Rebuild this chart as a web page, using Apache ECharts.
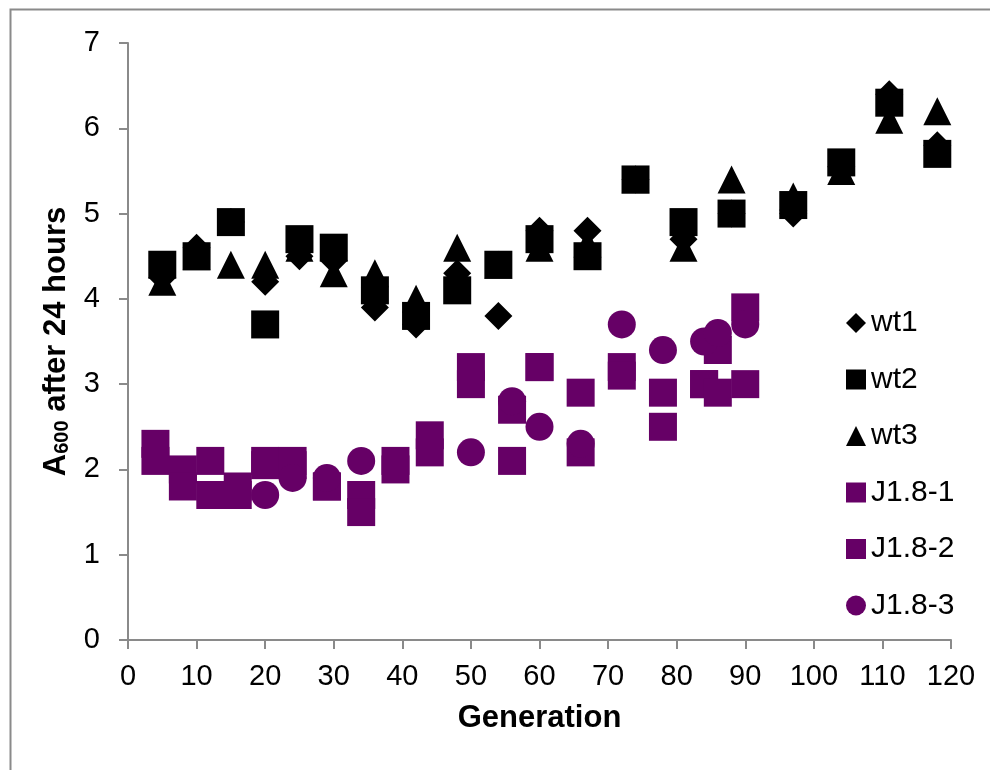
<!DOCTYPE html>
<html>
<head>
<meta charset="utf-8">
<script src="https://cdn.jsdelivr.net/npm/echarts@6/dist/echarts.min.js"></script>
<style>html,body{margin:0;padding:0;background:#fff}#c{width:990px;height:770px}</style>
</head>
<body>
<div id="c"></div>
<script>
// Generations (x) for wild-type replicates
var wtGen = [5, 10, 15, 20, 25, 30, 36, 42, 48, 54, 60, 67, 74, 81, 88, 97, 104, 111, 118];
var wt1 = [4.25, 4.6, 4.9, 4.2, 4.5, 4.45, 3.9, 3.7, 4.3, 3.8, 4.8, 4.8, 5.4, 4.7, 5.0, 5.0, 5.55, 6.4, 5.8];
var wt2 = [4.4, 4.5, 4.9, 3.7, 4.7, 4.6, 4.1, 3.8, 4.1, 4.4, 4.7, 4.5, 5.4, 4.9, 5.0, 5.1, 5.6, 6.3, 5.7];
var wt3 = [4.2, 4.5, 4.4, 4.4, 4.6, 4.3, 4.3, 4.0, 4.6, 4.4, 4.6, 4.65, 5.4, 4.6, 5.4, 5.2, 5.5, 6.1, 6.2];

// Generations (x) for J1.8 replicates
var jGen = [4, 8, 12, 16, 20, 24, 29, 34, 39, 44, 50, 56, 60, 66, 72, 78, 84, 86, 90];
var j1 = [2.3, 2.0, 2.1, 1.8, 2.1, 2.1, 1.8, 1.7, 2.1, 2.4, 3.2, 2.7, 3.2, 2.9, 3.2, 2.9, 3.0, 3.4, 3.9];
var j2 = [2.1, 1.8, 1.7, 1.7, 2.05, 2.05, 1.8, 1.5, 2.0, 2.2, 3.0, 2.1, 3.2, 2.2, 3.1, 2.5, 3.0, 2.9, 3.0];
var j3Gen = [20, 24, 29, 34, 50, 56, 60, 66, 72, 78, 84, 86, 90];
var j3 = [1.7, 1.9, 1.9, 2.1, 2.2, 2.8, 2.5, 2.3, 3.7, 3.4, 3.5, 3.6, 3.7];

var seriesNames = ['wt1', 'wt2', 'wt3', 'J1.8-1', 'J1.8-2', 'J1.8-3'];
var xTicks = [0, 10, 20, 30, 40, 50, 60, 70, 80, 90, 100, 110, 120];
var yTicks = [0, 1, 2, 3, 4, 5, 6, 7];

function pairs(xs, ys) { return xs.map(function (x, i) { return [x, ys[i]]; }); }

var BLACK = '#000000', PURPLE = '#660066', AXIS = '#8a8a8a';
var FONT = '"Liberation Sans", Arial, sans-serif';

function sc(name, data, symbol, color) {
  return {
    name: name, type: 'scatter', data: data, symbol: symbol, symbolSize: 28,
    itemStyle: { color: color, opacity: 1 }, emphasis: { disabled: true }
  };
}

var chart = echarts.init(document.getElementById('c'), null, { renderer: 'canvas' });
chart.setOption({
  animation: false,
  backgroundColor: '#ffffff',
  textStyle: { fontFamily: FONT },
  graphic: [{
    type: 'rect', left: 8, top: 7, shape: { width: 1200, height: 1000 },
    style: { fill: 'none', stroke: AXIS, lineWidth: 2 }, silent: true, z: -1
  }],
  grid: { left: 128, right: 39, top: 43, bottom: 130 },
  legend: {
    orient: 'vertical', left: 841, top: 303,
    itemWidth: 20, itemHeight: 20, itemGap: 26.5,
    textStyle: { fontSize: 30, color: '#000', fontFamily: FONT },
    data: [
      { name: 'wt1', icon: 'diamond' },
      { name: 'wt2', icon: 'rect' },
      { name: 'wt3', icon: 'triangle' },
      { name: 'J1.8-1', icon: 'rect' },
      { name: 'J1.8-2', icon: 'rect' },
      { name: 'J1.8-3', icon: 'circle' }
    ]
  },
  xAxis: {
    type: 'value', min: xTicks[0], max: xTicks[xTicks.length - 1], interval: 10,
    name: 'Generation', nameLocation: 'middle', nameGap: 63,
    nameTextStyle: { fontSize: 31, fontWeight: 'bold', color: '#000', fontFamily: FONT },
    axisLine: { lineStyle: { color: AXIS, width: 2 } },
    axisTick: { show: true, length: 9, inside: false, lineStyle: { color: AXIS, width: 2 } },
    axisLabel: { fontSize: 29, color: '#000', margin: 22, fontFamily: FONT },
    splitLine: { show: false }
  },
  yAxis: {
    type: 'value', min: yTicks[0], max: yTicks[yTicks.length - 1], interval: 1,
    name: '{a|A}{s|600}{a| after 24 hours}', nameLocation: 'middle', nameGap: 48,
    nameTextStyle: {
      fontSize: 31, fontWeight: 'bold', color: '#000', fontFamily: FONT,
      rich: {
        a: { fontSize: 31, fontWeight: 'bold', color: '#000', fontFamily: FONT },
        s: { fontSize: 20, fontWeight: 'bold', color: '#000', fontFamily: FONT, padding: [13, 0, 0, 0] }
      }
    },
    axisLine: { show: true, lineStyle: { color: AXIS, width: 2 } },
    axisTick: { show: true, length: 9, inside: false, lineStyle: { color: AXIS, width: 2 } },
    axisLabel: { fontSize: 29, color: '#000', margin: 28, fontFamily: FONT },
    splitLine: { show: false }
  },
  series: [
    sc(seriesNames[0], pairs(wtGen, wt1), 'diamond', BLACK),
    sc(seriesNames[1], pairs(wtGen, wt2), 'rect', BLACK),
    sc(seriesNames[2], pairs(wtGen, wt3), 'triangle', BLACK),
    sc(seriesNames[3], pairs(jGen, j1), 'rect', PURPLE),
    sc(seriesNames[4], pairs(jGen, j2), 'rect', PURPLE),
    sc(seriesNames[5], pairs(j3Gen, j3), 'circle', PURPLE)
  ]
});
</script>
</body>
</html>
